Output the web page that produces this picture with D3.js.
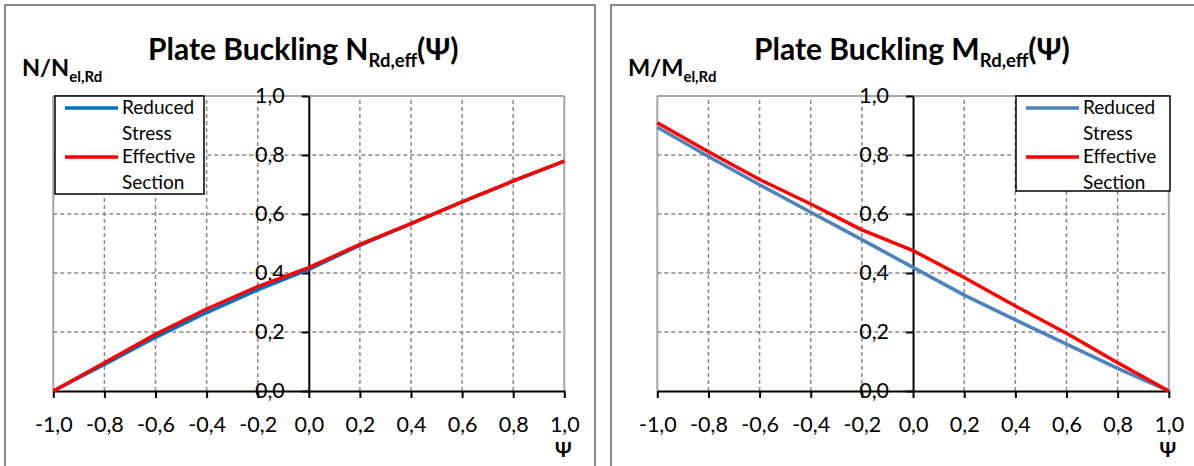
<!DOCTYPE html>
<html>
<head>
<meta charset="utf-8">
<script src="https://cdn.jsdelivr.net/npm/d3@7/dist/d3.min.js"></script>
<style>
  html, body { margin: 0; padding: 0; background: #fff; }
  svg { display: block; }
  text { font-family: Lato, "Noto Sans", "DejaVu Sans", sans-serif; fill: #000; }
</style>
</head>
<body>
<svg id="chart" width="1194" height="466"></svg>
<script>
// Stress ratio Ψ along the plate edge
const psi = [-1.0, -0.8, -0.6, -0.4, -0.2, 0.0, 0.2, 0.4, 0.6, 0.8, 1.0];

// Axial resistance N/N_el,Rd
const nReducedStress    = [0.000, 0.090, 0.182, 0.266, 0.343, 0.412, 0.494, 0.567, 0.641, 0.712, 0.779];
const nEffectiveSection = [0.000, 0.096, 0.192, 0.278, 0.354, 0.418, 0.497, 0.567, 0.641, 0.712, 0.779];

// Bending resistance M/M_el,Rd
const mReducedStress    = [0.894, 0.795, 0.699, 0.606, 0.513, 0.419, 0.325, 0.241, 0.159, 0.077, 0.000];
const mEffectiveSection = [0.909, 0.811, 0.717, 0.634, 0.546, 0.476, 0.385, 0.288, 0.196, 0.096, 0.000];

const xTicks = [-1.0, -0.8, -0.6, -0.4, -0.2, 0.0, 0.2, 0.4, 0.6, 0.8, 1.0];
const yTicks = [0.0, 0.2, 0.4, 0.6, 0.8, 1.0];
const legendLabels = [["Reduced", "Stress"], ["Effective", "Section"]];

const svg = d3.select("#chart");
const fmt = v => d3.format(".1f")(v).replace(".", ",").replace("−", "-");

const panels = [
  {
    left: 5, width: 590,
    plot: [53.3, 564.3],
    ySym: "N", title: "Plate Buckling ", titleSym: "N",
    reduced: nReducedStress, effective: nEffectiveSection,
    blue: "#0070C0",
    legend: { x: 55, y: 96, w: 149, h: 98 }
  },
  {
    left: 611, width: 600,
    plot: [657.3, 1168.8],
    ySym: "M", title: "Plate Buckling ", titleSym: "M",
    reduced: mReducedStress, effective: mEffectiveSection,
    blue: "#4F81BD",
    legend: { x: 1016, y: 96, w: 154, h: 95 }
  }
];

const yRange = [391, 96];

panels.forEach(p => {
  const g = svg.append("g");

  // panel frame
  g.append("rect")
    .attr("x", p.left).attr("y", 5)
    .attr("width", p.width).attr("height", 480)
    .attr("fill", "#fff").attr("stroke", "#8a8a8a").attr("stroke-width", 2);

  const x = d3.scaleLinear().domain([-1, 1]).range(p.plot);
  const y = d3.scaleLinear().domain([0, 1]).range(yRange);

  // grid
  const grid = g.append("g");
  xTicks.forEach(t => {
    if (t === 0) return;
    const edge = (t === -1 || t === 1);
    grid.append("line")
      .attr("x1", x(t)).attr("x2", x(t))
      .attr("y1", y(0)).attr("y2", y(1))
      .attr("stroke", edge ? "#a6a6a6" : "#888")
      .attr("stroke-width", edge ? 2 : 1.5)
      .attr("stroke-dasharray", edge ? null : "4,3");
  });
  yTicks.forEach(t => {
    if (t === 0) return;
    const edge = t === 1;
    grid.append("line")
      .attr("x1", x(-1)).attr("x2", x(1))
      .attr("y1", y(t)).attr("y2", y(t))
      .attr("stroke", edge ? "#a6a6a6" : "#888")
      .attr("stroke-width", edge ? 2 : 1.5)
      .attr("stroke-dasharray", edge ? null : "4,3");
  });

  // axes crossing at the origin
  const yAxis = g.append("g")
    .attr("transform", `translate(${x(0)},0)`)
    .call(d3.axisLeft(y).tickValues(yTicks).tickFormat(fmt)
      .tickSize(7).tickSizeOuter(0).tickPadding(17));
  const xAxis = g.append("g")
    .attr("transform", `translate(0,${y(0)})`)
    .call(d3.axisBottom(x).tickValues(xTicks).tickFormat(fmt)
      .tickSize(7).tickSizeOuter(0).tickPadding(19));
  [yAxis, xAxis].forEach(a => {
    a.select(".domain").attr("stroke", "#000").attr("stroke-width", 2);
    a.selectAll(".tick line").attr("stroke", "#000").attr("stroke-width", 2);
    a.selectAll(".tick text")
      .style("font-family", 'Lato, "Noto Sans", sans-serif')
      .style("font-size", "21.5px").attr("fill", "#000");
  });

  // curves
  const line = d3.line().x((d, i) => x(psi[i])).y(d => y(d));
  g.append("path").datum(p.reduced)
    .attr("d", line).attr("fill", "none")
    .attr("stroke", p.blue).attr("stroke-width", 3.5);
  g.append("path").datum(p.effective)
    .attr("d", line).attr("fill", "none")
    .attr("stroke", "#FF0000").attr("stroke-width", 3.5);

  // legend
  const L = p.legend;
  const lg = g.append("g");
  lg.append("rect").attr("x", L.x).attr("y", L.y).attr("width", L.w).attr("height", L.h)
    .attr("fill", "#fff").attr("stroke", "#000").attr("stroke-width", 1.5);
  const colors = [p.blue, "#FF0000"];
  legendLabels.forEach((lab, i) => {
    const base = L.y + 12 + i * 49;
    lg.append("line")
      .attr("x1", L.x + 10).attr("x2", L.x + 63)
      .attr("y1", base).attr("y2", base)
      .attr("stroke", colors[i]).attr("stroke-width", 3.5);
    lg.append("text").attr("x", L.x + 67).attr("y", base + 6)
      .style("font-size", "19px").text(lab[0]);
    lg.append("text").attr("x", L.x + 67).attr("y", base + 32)
      .style("font-size", "19px").text(lab[1]);
  });

  // y-axis quantity label
  const yl = g.append("text").attr("x", p.left + 17).attr("y", 76)
    .style("font-weight", "bold").style("font-size", "23.5px");
  yl.append("tspan").text(`${p.ySym}/${p.ySym}`);
  yl.append("tspan").attr("dy", 6).style("font-size", "15px").text("el,Rd");

  // title
  const tt = g.append("text").attr("x", p.left + 143).attr("y", 60)
    .style("font-weight", "bold").style("font-size", "30px");
  tt.append("tspan").text(p.title + p.titleSym);
  tt.append("tspan").attr("dy", 7).style("font-size", "18.5px").text("Rd,eff");
  tt.append("tspan").attr("dy", -7).text("(Ψ)");

  // x-axis quantity label
  g.append("text").attr("x", x(1) - 1).attr("y", 457)
    .attr("text-anchor", "middle")
    .style("font-weight", "bold").style("font-size", "20px").text("Ψ");
});
</script>
</body>
</html>
